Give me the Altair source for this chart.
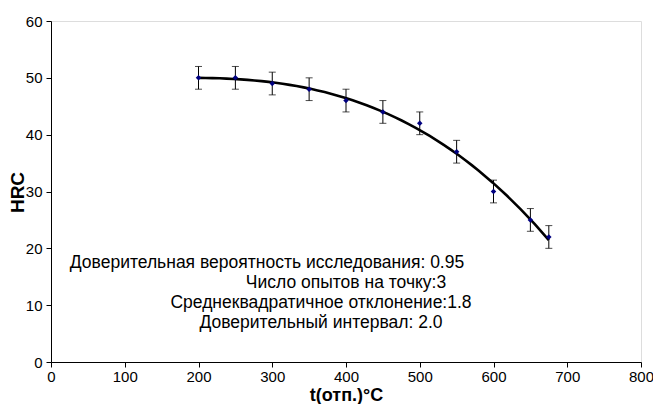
import altair as alt
import pandas as pd

temps = [200, 250, 300, 350, 400, 450, 500, 550, 600, 650, 675]
hrc = [50, 50, 49, 48, 46, 44, 42, 37, 30, 25, 22]
ci = [2.0] * len(temps)

notes = [
    "Доверительная вероятность исследования: 0.95",
    "Число опытов на точку:3",
    "Среднеквадратичное отклонение:1.8",
    "Доверительный интервал: 2.0",
]

df = pd.DataFrame({"t": temps, "hrc": hrc, "ci": ci})

PL, PT, W, H = 51, 21, 590, 341

xs = alt.Scale(domain=[0, 800], nice=False)
ys = alt.Scale(domain=[0, 60], nice=False)

FONT = "Liberation Sans"
xax = alt.Axis(values=list(range(0, 801, 100)), grid=False, title="t(отп.)°C",
               labelFontSize=15, titleFontSize=18, titleFontWeight="bold",
               domainColor="#000", tickColor="#000", labelColor="#000", titleColor="#000",
               tickSize=5, labelPadding=2, titlePadding=2, labelFont=FONT, titleFont=FONT,
               labelFlush=False)
yax = alt.Axis(values=list(range(0, 61, 10)), grid=False, title="HRC",
               labelFontSize=15, titleFontSize=19, titleFontWeight="bold",
               domainColor="#000", tickColor="#000", labelColor="#000", titleColor="#000",
               tickSize=5, labelPadding=4, labelFont=FONT, titleFont=FONT,
               titleX=-34, titleY=171, titleAngle=270, titleAlign="center",
               titleBaseline="middle", labelFlush=False)

base = alt.Chart(df)

trend = base.transform_regression("t", "hrc", method="poly", order=3, extent=[200, 675]).mark_line(
    color="#000", strokeWidth=2.6
).encode(x=alt.X("t:Q", scale=xs, axis=xax), y=alt.Y("hrc:Q", scale=ys, axis=yax))

bars = base.transform_calculate(lo="datum.hrc - datum.ci", hi="datum.hrc + datum.ci")

rules = bars.mark_rule(color="#000", strokeWidth=1).encode(
    x="t:Q", y="lo:Q", y2="hi:Q")
cap_lo = bars.mark_tick(color="#000", thickness=1, size=7, orient="horizontal").encode(
    x="t:Q", y="lo:Q")
cap_hi = bars.mark_tick(color="#000", thickness=1, size=7, orient="horizontal").encode(
    x="t:Q", y="hi:Q")

pts = base.mark_point(shape="diamond", filled=True, color="#000080", size=30, opacity=1).encode(
    x="t:Q", y="hrc:Q")

text_cx = [267, 346, 321, 321]
text_y = [263, 283, 303, 323]
txt_layers = []
for k, s in enumerate(notes):
    txt_layers.append(
        alt.Chart(pd.DataFrame({"text": [s]})).mark_text(
            align="center", baseline="middle", fontSize=17.5, font=FONT, color="#000"
        ).encode(x=alt.value(text_cx[k] - PL), y=alt.value(text_y[k] - PT), text="text:N")
    )

chart = alt.layer(trend, rules, cap_lo, cap_hi, pts, *txt_layers).properties(
    width=W, height=H,
    autosize=alt.AutoSizeParams(type="none"),
    padding={"left": PL - 8, "top": PT - 8, "right": 645 - (PL - 8) - W, "bottom": 396 - (PT - 8) - H},
).configure_view(stroke=None).configure(background="#ffffff")

chart.save("out.html", embed_options={"renderer": "svg", "actions": False})
